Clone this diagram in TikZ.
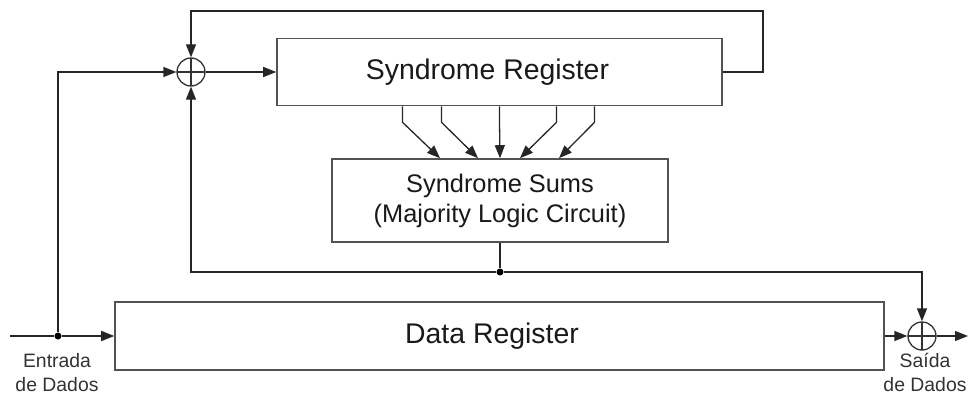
\documentclass[tikz,border=0pt]{standalone}
\usepackage{fontspec}
\setmainfont{Liberation Sans}
\usetikzlibrary{arrows.meta,calc}

\tikzset{
  regbox/.style={draw=black!68, line width=1.6pt, fill=white, inner sep=0pt},
  wire/.style={draw=black!85, line width=1.3pt},
  flow/.style={wire, -{Triangle[length=13pt,width=10pt]}},
  xorgate/.style={circle, draw=black!80, line width=1.3pt, minimum size=28pt, inner sep=0pt,
    path picture={\draw[black!80, line width=1.3pt]
      (path picture bounding box.north) -- (path picture bounding box.south)
      (path picture bounding box.west) -- (path picture bounding box.east);}},
  junction/.style={circle, fill=black, minimum size=7pt, inner sep=0pt},
  bigtext/.style={font=\fontsize{28.4}{34}\selectfont, text=black!90},
  midtext/.style={font=\fontsize{25.4}{30}\selectfont, text=black!90, align=center},
  smalltext/.style={font=\fontsize{19.4}{24}\selectfont, text=black!80, align=center, anchor=north, inner sep=0pt}
}

\begin{document}
\begin{tikzpicture}[x=1pt, y=-1pt]
  \useasboundingbox (0,0) rectangle (968,396);

  % blocks
  \node[regbox, minimum width=445pt, minimum height=67pt] (sreg) at (499.5,72) {};
  \node[bigtext] (sregtxt) at (487.5,72) {Syndrome Register};

  \node[regbox, midtext, minimum width=336pt, minimum height=83pt] (sums) at (500,200.5)
    {Syndrome Sums\\(Majority Logic Circuit)};

  \node[regbox, minimum width=769pt, minimum height=68pt] (dreg) at (499.5,336) {};
  \node[bigtext] (dregtxt) at (492,336) {Data Register};

  % modulo-2 adders
  \node[xorgate] (xa) at (191,72) {};
  \node[xorgate] (xb) at (922,336) {};

  % branch points and free ends
  \node[junction] (d1) at (58,336) {};
  \node[junction] (d2) at (500,272) {};
  \coordinate (in) at (10,336);
  \coordinate (out) at (968,336);
  \coordinate (tr) at (763,11);

  % input path
  \draw[wire] (in) -- (d1);
  \draw[flow] (d1) -- (dreg.west);
  \draw[flow] (d1) |- (xa.west);

  % syndrome loop
  \draw[flow] (xa.east) -- (sreg.west);
  \draw[flow] (sreg.east) -| (tr) -| (xa.north);

  % taps from the syndrome register into the sums
  \foreach \a/\b in {-97/-60, -58/-22, 0/0, 57/20, 95/59}{
    \draw[flow] ([xshift=\a pt]sreg.south) -- ++(0,16) -- ([xshift=\b pt]sums.north);
  }

  % correction feedback
  \draw[wire] (sums.south) -- (d2);
  \draw[flow] (d2) -| (xa.south);
  \draw[flow] (d2) -| (xb.north);

  % output path
  \draw[flow] (dreg.east) -- (xb.west);
  \draw[flow] (xb.east) -- (out);

  % labels
  \node[smalltext] (inlbl) at (57,353) {Entrada\\de Dados};
  \node[smalltext] (outlbl) at (925,353) {Saída\\de Dados};
\end{tikzpicture}
\end{document}
